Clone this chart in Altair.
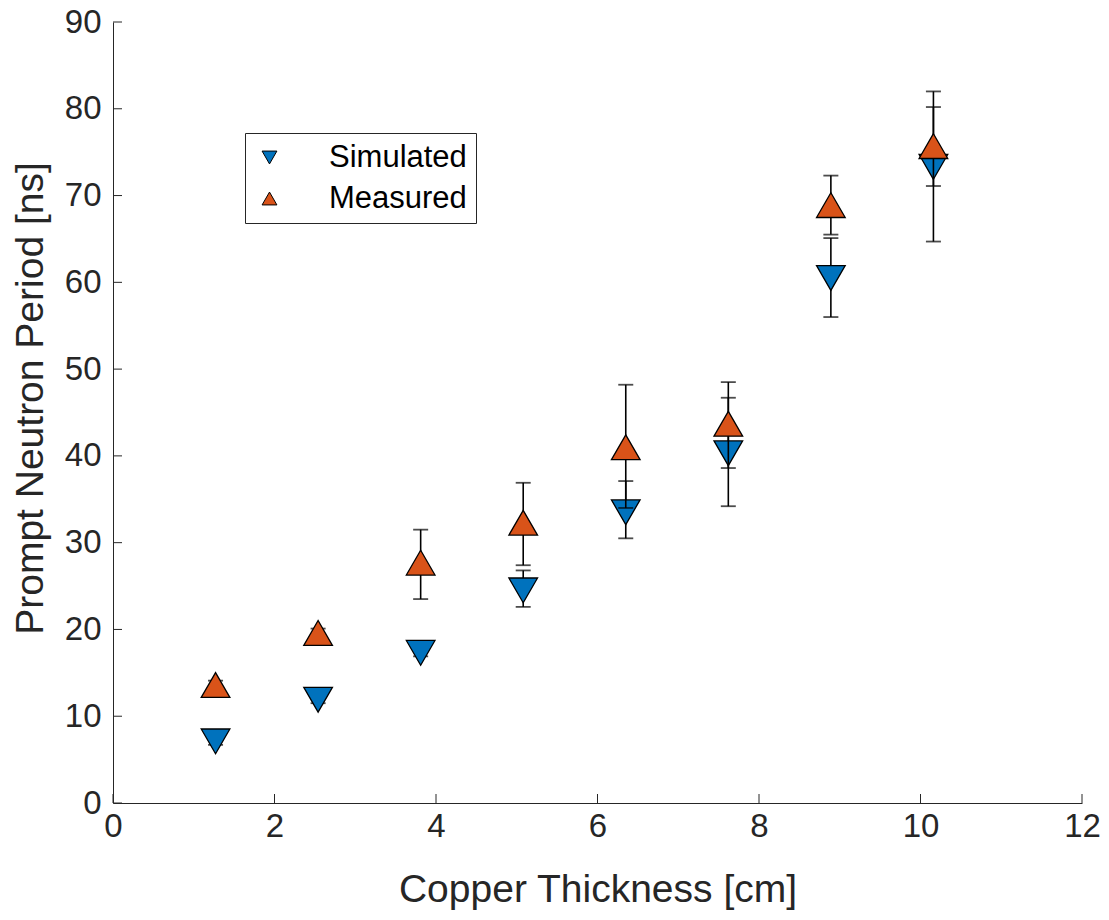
import altair as alt
import pandas as pd

thickness = [1.27, 2.54, 3.81, 5.08, 6.35, 7.62, 8.89, 10.16]

sim_val = [7.1, 11.9, 17.3, 24.5, 33.5, 40.3, 60.5, 73.3]
sim_lo = [6.7, 11.5, 16.9, 22.6, 30.5, 34.2, 56.0, 64.7]
sim_hi = [7.5, 12.3, 17.7, 26.8, 37.1, 46.7, 65.1, 82.0]

meas_val = [13.6, 19.6, 27.7, 32.3, 41.0, 43.7, 68.9, 75.7]
meas_lo = [13.1, 19.1, 23.5, 27.4, 34.0, 38.6, 65.5, 71.1]
meas_hi = [14.1, 20.1, 31.5, 36.9, 48.2, 48.5, 72.3, 80.2]

series = ["Simulated", "Measured"]
colors = ["#0072BD", "#D95319"]
shapes = ["triangle-down", "triangle-up"]

x_ticks = [0, 2, 4, 6, 8, 10, 12]
y_ticks = [0, 10, 20, 30, 40, 50, 60, 70, 80, 90]

rows = []
for i, t in enumerate(thickness):
    rows.append({"x": t, "y": sim_val[i], "lo": sim_lo[i], "hi": sim_hi[i], "series": "Simulated"})
for i, t in enumerate(thickness):
    rows.append({"x": t, "y": meas_val[i], "lo": meas_lo[i], "hi": meas_hi[i], "series": "Measured"})
df = pd.DataFrame(rows)

W, H = 969, 781
FONT = "Liberation Sans"
AX = "#262626"

xs = alt.Scale(domain=[0, 12], nice=False, zero=False)
ys = alt.Scale(domain=[0, 90], nice=False, zero=False)

xaxis = alt.Axis(values=x_ticks, format="d", ticks=False, grid=False, labelFontSize=33, labelPadding=7,
                 title="Copper Thickness [cm]", titleFontSize=39, titleFontWeight="normal",
                 titleX=W / 2, titleY=86, titleBaseline="middle", titleAlign="center",
                 domainColor=AX, labelColor=AX, titleColor=AX, labelFont=FONT, titleFont=FONT,
                 labelFlush=False)
yaxis = alt.Axis(values=y_ticks, format="d", ticks=False, grid=False, labelFontSize=33, labelPadding=12,
                 title="Prompt Neutron Period [ns]", titleFontSize=39, titleFontWeight="normal",
                 titleX=-83, titleY=376, titleBaseline="middle", titleAlign="center", titleAngle=270,
                 domainColor=AX, labelColor=AX, titleColor=AX, labelFont=FONT, titleFont=FONT,
                 labelFlush=False)

base = alt.Chart(df)

layers = []
axes_layer = alt.Chart(pd.DataFrame({"x": [0], "y": [0]})).mark_point(opacity=0).encode(
    x=alt.X("x:Q", scale=xs, axis=xaxis),
    y=alt.Y("y:Q", scale=ys, axis=yaxis),
)
layers.append(axes_layer)

xt = alt.Chart(pd.DataFrame({"v": x_ticks})).mark_rule(color=AX, strokeWidth=1).encode(
    x=alt.X("v:Q", scale=xs), y=alt.value(H), y2=alt.value(H - 9))
yt = alt.Chart(pd.DataFrame({"v": y_ticks})).mark_rule(color=AX, strokeWidth=1).encode(
    y=alt.Y("v:Q", scale=ys), x=alt.value(0), x2=alt.value(9))
layers += [xt, yt]

for s in series:
    d = base.transform_filter(alt.datum.series == s)
    bar = d.mark_rule(color="black", strokeWidth=1.6).encode(
        x=alt.X("x:Q", scale=xs), y=alt.Y("lo:Q", scale=ys), y2="hi:Q")
    cap_lo = d.mark_tick(color="black", orient="horizontal", size=15, thickness=1.8).encode(
        x=alt.X("x:Q", scale=xs), y=alt.Y("lo:Q", scale=ys))
    cap_hi = d.mark_tick(color="black", orient="horizontal", size=15, thickness=1.8).encode(
        x=alt.X("x:Q", scale=xs), y=alt.Y("hi:Q", scale=ys))
    pts = d.mark_point(filled=True, stroke="black", strokeWidth=1.3, size=820, opacity=1).encode(
        x=alt.X("x:Q", scale=xs),
        y=alt.Y("y:Q", scale=ys),
        color=alt.Color("series:N", scale=alt.Scale(domain=series, range=colors),
                        legend=alt.Legend(title=None, orient="none", legendX=132, legendY=111)),
        shape=alt.Shape("series:N", scale=alt.Scale(domain=series, range=shapes),
                        legend=alt.Legend(title=None, orient="none", legendX=132, legendY=111)),
    )
    layers += [bar, cap_lo, cap_hi, pts]

chart = alt.layer(*layers).properties(
    width=W, height=H,
    autosize=alt.AutoSizeParams(type="none"),
    padding={"left": 105, "top": 14, "right": 19, "bottom": 109},
    background="white",
).configure_view(stroke=None).configure_legend(
    labelFont=FONT, labelFontSize=31, labelColor="black",
    symbolSize=220, symbolStrokeColor="black", symbolStrokeWidth=1,
    strokeColor=AX, fillColor="white", padding=9, rowPadding=9,
    labelOffset=44, symbolOffset=0, cornerRadius=0, labelLimit=300,
)

chart.save("out.html", embed_options={"renderer": "svg", "actions": False})
